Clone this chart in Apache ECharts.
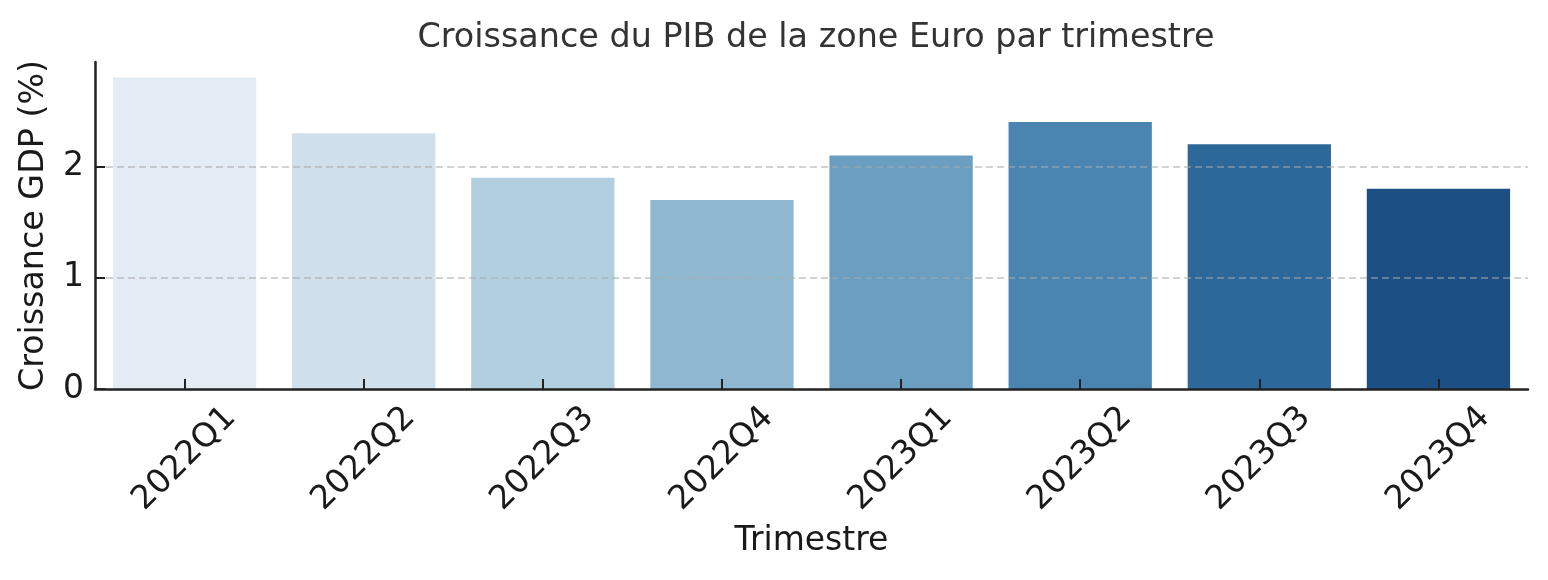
<!DOCTYPE html>
<html>
<head>
<meta charset="utf-8">
<script src="https://cdn.jsdelivr.net/npm/echarts@6/dist/echarts.min.js"></script>
<style>
html,body{margin:0;padding:0;background:#fff;}
#chart{width:1548px;height:580px;}
</style>
</head>
<body>
<div id="chart"></div>
<script>
const categories = ['2022Q1','2022Q2','2022Q3','2022Q4','2023Q1','2023Q2','2023Q3','2023Q4'];
const growth = [2.8, 2.3, 1.9, 1.7, 2.1, 2.4, 2.2, 1.8];
const barColors = ['#e3ebf5','#cfdfeb','#b2cfe0','#90b7d0','#6a9fc1','#4a85b1','#2d689b','#1c4f84'];
const yTicks = [0, 1, 2];
const gridValues = [1, 2];

const font = 'DejaVu Sans';
const chart = echarts.init(document.getElementById('chart'), null, {renderer: 'canvas'});
chart.setOption({
  backgroundColor: '#ffffff',
  animation: false,
  title: {
    text: 'Croissance du PIB de la zone Euro par trimestre',
    left: 811, top: 17, textAlign: 'center',
    textStyle: {fontFamily: font, fontSize: 33.4, fontWeight: 'normal', color: '#333333'}
  },
  grid: {left: 95, right: 20, top: 62, bottom: 191},
  xAxis: {
    type: 'category',
    z: 5,
    data: categories,
    name: 'Trimestre',
    nameLocation: 'middle',
    nameGap: 136,
    nameTextStyle: {fontFamily: font, fontSize: 33, color: '#1a1a1a'},
    axisLine: {lineStyle: {color: '#222222', width: 2.5}},
    axisTick: {show: true, inside: true, length: 10, alignWithLabel: true, lineStyle: {color: '#222222', width: 2}},
    axisLabel: {
      rotate: 45, align: 'center', verticalAlign: 'middle', margin: 70,
      fontFamily: font, fontSize: 33, color: '#1a1a1a'
    },
    splitLine: {show: false}
  },
  yAxis: {
    type: 'value',
    z: 5,
    min: 0, max: 2.94, interval: 1,
    name: 'Croissance GDP (%)',
    nameLocation: 'middle',
    nameGap: 44,
    nameTextStyle: {fontFamily: font, fontSize: 33.3, color: '#1a1a1a'},
    axisLine: {show: true, lineStyle: {color: '#222222', width: 2.5}},
    axisTick: {show: true, inside: true, length: 10, customValues: yTicks, lineStyle: {color: '#222222', width: 2}},
    axisLabel: {customValues: yTicks, margin: 11, fontFamily: font, fontSize: 33, color: '#1a1a1a'},
    splitLine: {show: false}
  },
  series: [{
    type: 'bar',
    data: growth.map((v, i) => ({value: v, itemStyle: {color: barColors[i]}})),
    barWidth: '80%',
    markLine: {
      silent: true,
      symbol: 'none',
      label: {show: false},
      lineStyle: {color: 'rgba(170,170,170,0.7)', type: [7, 4], width: 1.5},
      data: gridValues.map(v => ({yAxis: v}))
    }
  }]
});
</script>
</body>
</html>
